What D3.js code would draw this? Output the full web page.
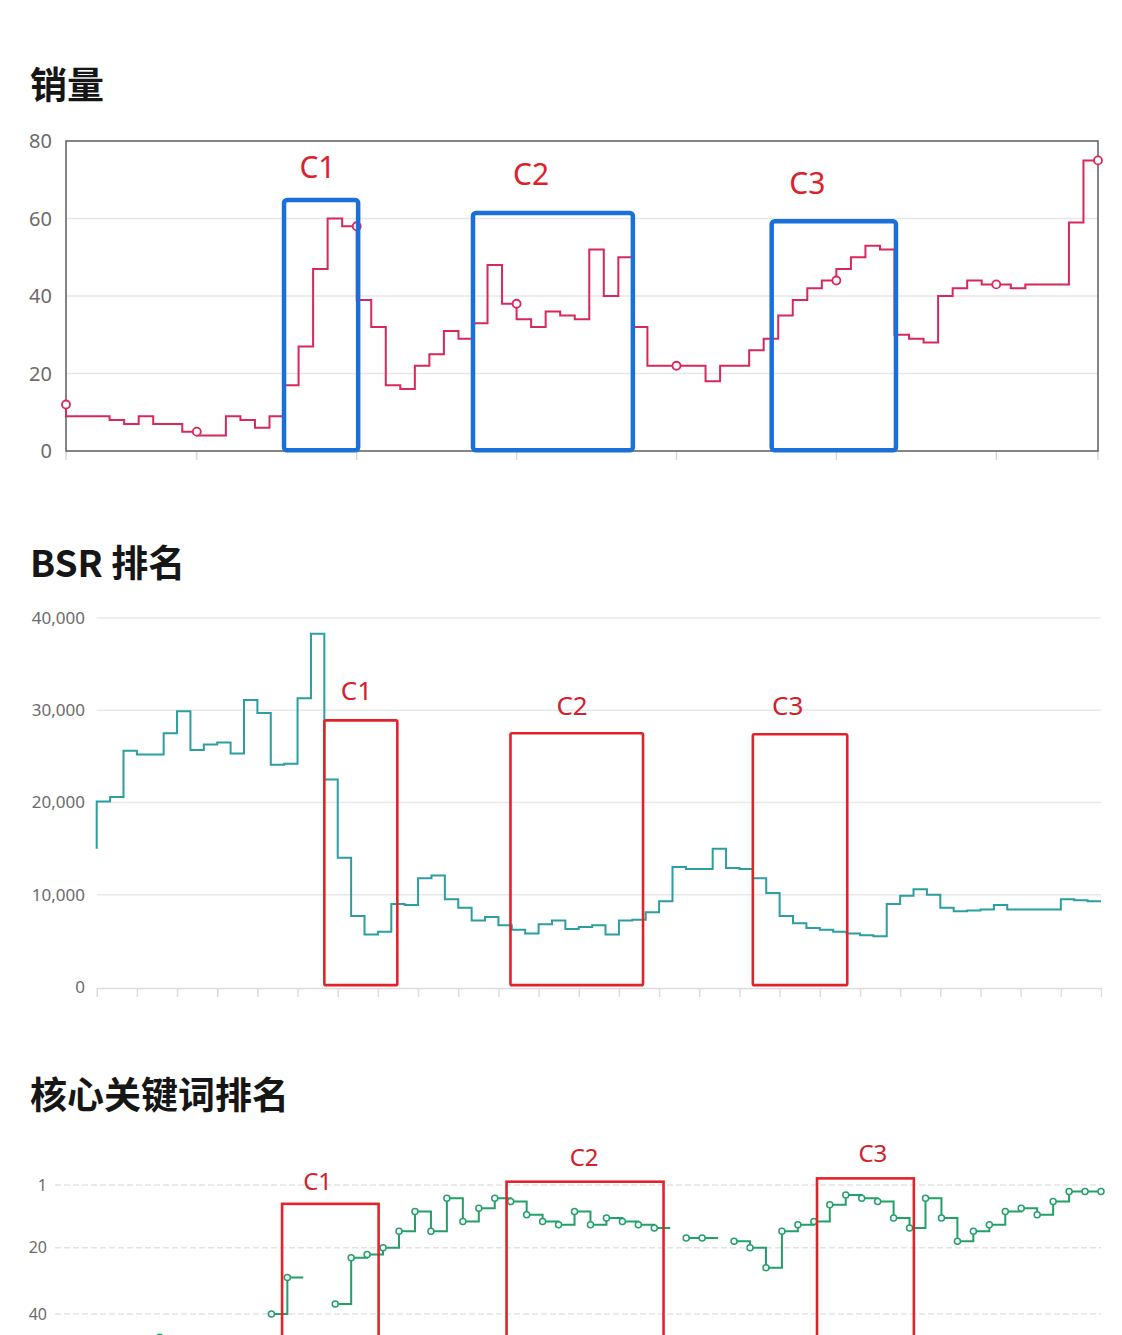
<!DOCTYPE html>
<html>
<head>
<meta charset="utf-8">
<script src="https://cdn.jsdelivr.net/npm/d3@7"></script>
<style>
  body { margin: 0; background: #fff; }
  text { font-family: "Noto Sans", "Noto Sans CJK SC", sans-serif; }
  .title { font-family: "Noto Sans CJK SC", sans-serif; font-weight: 700; font-size: 37px; fill: #161616; }
  .ylab { fill: #6b6b6b; }
  .mark-label { font-family: "Noto Sans", sans-serif; }
</style>
</head>
<body>
<div id="chart"></div>
<script>

var svgWidth = 1122;
var svgHeight = 1335;

// daily sales (step chart, 72 days)
var salesValues = [12, 9, 9, 9, 8, 7, 9, 7, 7, 5, 4, 4, 9, 8, 6, 9, 17, 27, 47, 60,
  58, 39, 32, 17, 16, 22, 25, 31, 29, 33, 48, 38, 34, 32, 36, 35, 34, 52, 40, 50,
  32, 22, 22, 22, 22, 18, 22, 22, 26, 29, 35, 39, 42, 44, 47, 50, 53, 52, 30, 29,
  28, 40, 42, 44, 43, 43, 42, 43, 43, 43, 59, 75];
var salesMarkers = [0, 9, 20, 31, 42, 53, 64, 71];
var salesTicks = [0, 20, 40, 60, 80];

// BSR rank (76 points)
var bsrValues = [15000, 20100, 20600, 25600, 25200, 25200, 27500, 29900, 25700, 26300,
  26500, 25300, 31100, 29700, 24100, 24200, 31300, 38300, 22500, 14000,
  7700, 5700, 6000, 9000, 8900, 11800, 12100, 9500, 8600, 7200,
  7600, 6700, 6200, 5800, 6800, 7200, 6300, 6500, 6700, 5700,
  7200, 7300, 8100, 9300, 13000, 12800, 12800, 15000, 12900, 12800,
  11800, 10200, 7700, 6900, 6400, 6200, 6000, 5800, 5600, 5500,
  9000, 9900, 10600, 10000, 8600, 8200, 8300, 8400, 8900, 8400,
  8400, 8400, 8400, 9500, 9400, 9300];
var bsrTicks = [0, 10000, 20000, 30000, 40000];

// core keyword rank (66 points, null = not ranked)
var kwValues = [null, null, null, null, null, null, 47, null, null, null,
  null, null, null, 40, 29, null, null, 37, 23, 22,
  20, 15, 9, 15, 5, 12, 8, 5, 6, 10,
  12, 13, 9, 13, 11, 12, 13, 14, null, 17,
  17, null, 18, 20, 26, 15, 13, 12, 7, 4,
  5, 6, 11, 14, 5, 11, 18, 15, 13, 9,
  8, 10, 6, 3, 3, 3];
var kwTicks = [1, 20, 40];

// highlighted periods (x in point index, y in chart units)
var salesBoxes = [
  { name: "C1", x0: 15, x1: 20.1, top: 64.8, lx: 17.3, ly: 70.5 },
  { name: "C2", x0: 28, x1: 39, top: 61.4, lx: 32, ly: 68.6 },
  { name: "C3", x0: 48.55, x1: 57.1, top: 59.3, lx: 51, ly: 66.3 }
];
var bsrBoxes = [
  { name: "C1", x0: 17, x1: 22.45, top: 28900, lx: 19.4, ly: 31100 },
  { name: "C2", x0: 30.9, x1: 40.8, top: 27500, lx: 35.5, ly: 29500 },
  { name: "C3", x0: 49, x1: 56.05, top: 27400, lx: 51.6, ly: 29500 }
];
var kwBoxes = [
  { name: "C1", x0: 13.67, x1: 19.72, top: 6.7, lx: 15.9, ly: 2.5 },
  { name: "C2", x0: 27.74, x1: 37.58, top: 0, lx: 32.6, ly: -4.7 },
  { name: "C3", x0: 47.2, x1: 53.27, top: -1, lx: 50.7, ly: -6 }
];

var svg = d3.select("#chart")
  .append("svg")
  .attr("width", svgWidth)
  .attr("height", svgHeight);

svg.append("rect")
  .attr("width", svgWidth)
  .attr("height", svgHeight)
  .attr("fill", "#fff");

// titles
svg.append("text").attr("class", "title").attr("x", 30).attr("y", 99).text("销量");
svg.append("text").attr("class", "title").attr("x", 30).attr("y", 577).text("BSR 排名");
svg.append("text").attr("class", "title").attr("x", 30).attr("y", 1109).text("核心关键词排名");

// ---------- chart 1: sales ----------
var sX = d3.scaleLinear().domain([0, salesValues.length - 1]).range([66, 1098]);
var sY = d3.scaleLinear().domain([0, 80]).range([451, 141]);
var g1 = svg.append("g");

g1.selectAll(".grid1")
  .data(salesTicks.filter(d => d > 0 && d < 80))
  .enter()
  .append("line")
  .attr("x1", sX.range()[0]).attr("x2", sX.range()[1])
  .attr("y1", d => sY(d)).attr("y2", d => sY(d))
  .attr("stroke", "#e6e6e6").attr("stroke-width", 1.5);

g1.selectAll(".ytick1")
  .data(salesTicks)
  .enter()
  .append("text")
  .attr("class", "ylab")
  .attr("x", 52)
  .attr("y", d => sY(d))
  .attr("dy", "0.35em")
  .attr("text-anchor", "end")
  .attr("font-size", 20)
  .text(d => d);

// bottom tick marks
g1.selectAll(".xtick1")
  .data(salesMarkers)
  .enter()
  .append("line")
  .attr("x1", d => sX(d)).attr("x2", d => sX(d))
  .attr("y1", sY(0)).attr("y2", sY(0) + 9)
  .attr("stroke", "#d8d8d8").attr("stroke-width", 1.5);

// frame
g1.append("rect")
  .attr("x", sX.range()[0]).attr("y", sY(80))
  .attr("width", sX.range()[1] - sX.range()[0])
  .attr("height", sY(0) - sY(80))
  .attr("fill", "none")
  .attr("stroke", "#666").attr("stroke-width", 1.6);

var salesLine = d3.line()
  .x((d, i) => sX(i))
  .y(d => sY(d))
  .curve(d3.curveStepBefore);

g1.append("path")
  .datum(salesValues)
  .attr("d", salesLine)
  .attr("fill", "none")
  .attr("stroke", "#d8285a")
  .attr("stroke-width", 2);

g1.selectAll(".smark")
  .data(salesMarkers)
  .enter()
  .append("circle")
  .attr("cx", d => sX(d))
  .attr("cy", d => sY(salesValues[d]))
  .attr("r", 4)
  .attr("fill", "#fff")
  .attr("stroke", "#d8285a")
  .attr("stroke-width", 1.8);

g1.selectAll(".sbox")
  .data(salesBoxes)
  .enter()
  .append("rect")
  .attr("x", d => sX(d.x0))
  .attr("y", d => sY(d.top))
  .attr("width", d => sX(d.x1) - sX(d.x0))
  .attr("height", d => sY(0.2) - sY(d.top))
  .attr("rx", 3)
  .attr("fill", "none")
  .attr("stroke", "#1a6fd9")
  .attr("stroke-width", 4.5);

g1.selectAll(".slab")
  .data(salesBoxes)
  .enter()
  .append("text")
  .attr("class", "mark-label")
  .attr("x", d => sX(d.lx))
  .attr("y", d => sY(d.ly))
  .attr("text-anchor", "middle")
  .attr("font-size", 30)
  .attr("fill", "#dc2229")
  .text(d => d.name);

// ---------- chart 2: BSR ----------
var bX = d3.scaleLinear().domain([0, bsrValues.length - 1]).range([96.7, 1101]);
var bY = d3.scaleLinear().domain([0, 40000]).range([987, 618]);
var g2 = svg.append("g");

g2.selectAll(".grid2")
  .data(bsrTicks.filter(d => d > 0))
  .enter()
  .append("line")
  .attr("x1", bX.range()[0]).attr("x2", bX.range()[1])
  .attr("y1", d => bY(d)).attr("y2", d => bY(d))
  .attr("stroke", "#e8e8e8").attr("stroke-width", 1.5);

g2.selectAll(".ytick2")
  .data(bsrTicks)
  .enter()
  .append("text")
  .attr("class", "ylab")
  .attr("x", 85)
  .attr("y", d => bY(d))
  .attr("dy", "0.35em")
  .attr("text-anchor", "end")
  .attr("font-size", 17)
  .text(d => d3.format(",")(d));

var bottomAxis = d3.axisBottom(bX)
  .tickValues(d3.range(0, bsrValues.length, 3))
  .tickSize(9)
  .tickSizeOuter(0)
  .tickFormat("");

var xAxis2 = g2.append("g")
  .attr("transform", `translate(0, ${bY(0) + 1})`)
  .call(bottomAxis);
xAxis2.selectAll("line, path").attr("stroke", "#dcdcdc").attr("stroke-width", 1.5);

var bsrLine = d3.line()
  .x((d, i) => bX(i))
  .y(d => bY(d))
  .curve(d3.curveStepBefore);

g2.append("path")
  .datum(bsrValues)
  .attr("d", bsrLine)
  .attr("fill", "none")
  .attr("stroke", "#2b9ea0")
  .attr("stroke-width", 2);

g2.selectAll(".bbox")
  .data(bsrBoxes)
  .enter()
  .append("rect")
  .attr("x", d => bX(d.x0))
  .attr("y", d => bY(d.top))
  .attr("width", d => bX(d.x1) - bX(d.x0))
  .attr("height", d => bY(200) - bY(d.top))
  .attr("rx", 1.5)
  .attr("fill", "none")
  .attr("stroke", "#e0232b")
  .attr("stroke-width", 2.6);

g2.selectAll(".blab")
  .data(bsrBoxes)
  .enter()
  .append("text")
  .attr("class", "mark-label")
  .attr("x", d => bX(d.lx))
  .attr("y", d => bY(d.ly))
  .attr("text-anchor", "middle")
  .attr("font-size", 26)
  .attr("fill", "#d3202c")
  .text(d => d.name);

// ---------- chart 3: keyword rank ----------
var kX = d3.scaleLinear().domain([0, kwValues.length - 1]).range([64, 1101]);
var kY = d3.scaleLinear().domain([1, 40]).range([1185, 1314]);
var g3 = svg.append("g");

g3.selectAll(".grid3")
  .data(kwTicks)
  .enter()
  .append("line")
  .attr("x1", 55).attr("x2", kX.range()[1])
  .attr("y1", d => kY(d)).attr("y2", d => kY(d))
  .attr("stroke", "#e3e3e3").attr("stroke-width", 1.5)
  .attr("stroke-dasharray", "6,3");

g3.selectAll(".ytick3")
  .data(kwTicks)
  .enter()
  .append("text")
  .attr("class", "ylab")
  .attr("x", 47)
  .attr("y", d => kY(d))
  .attr("dy", "0.35em")
  .attr("text-anchor", "end")
  .attr("font-size", 16)
  .text(d => d);

// split into ranked runs; each run's last step runs on to the next (unranked) day
var kwPoints = kwValues.map((v, i) => ({ i: i, v: v })).filter(d => d.v != null);
var kwRuns = [];
kwPoints.forEach(function (d) {
  var run = kwRuns[kwRuns.length - 1];
  if (run && run[run.length - 1].i === d.i - 1) {
    run.push(d);
  } else {
    kwRuns.push([d]);
  }
});
kwRuns.forEach(function (run) {
  var last = run[run.length - 1];
  if (last.i < kwValues.length - 1) {
    run.push({ i: last.i + 1, v: last.v });
  }
});

var kwLine = d3.line()
  .x(d => kX(d.i))
  .y(d => kY(d.v))
  .curve(d3.curveStepAfter);

g3.selectAll(".kline")
  .data(kwRuns)
  .enter()
  .append("path")
  .attr("d", kwLine)
  .attr("fill", "none")
  .attr("stroke", "#22a06a")
  .attr("stroke-width", 2);

g3.selectAll(".kmark")
  .data(kwPoints)
  .enter()
  .append("circle")
  .attr("cx", d => kX(d.i))
  .attr("cy", d => kY(d.v))
  .attr("r", 3)
  .attr("fill", "#fff")
  .attr("stroke", "#22a06a")
  .attr("stroke-width", 1.5);

g3.selectAll(".kbox")
  .data(kwBoxes)
  .enter()
  .append("rect")
  .attr("x", d => kX(d.x0))
  .attr("y", d => kY(d.top))
  .attr("width", d => kX(d.x1) - kX(d.x0))
  .attr("height", d => kY(60) - kY(d.top))
  .attr("fill", "none")
  .attr("stroke", "#e3232b")
  .attr("stroke-width", 2.6);

g3.selectAll(".klab")
  .data(kwBoxes)
  .enter()
  .append("text")
  .attr("class", "mark-label")
  .attr("x", d => kX(d.lx))
  .attr("y", d => kY(d.ly))
  .attr("text-anchor", "middle")
  .attr("font-size", 24)
  .attr("fill", "#d3202c")
  .text(d => d.name);

</script>
</body>
</html>
